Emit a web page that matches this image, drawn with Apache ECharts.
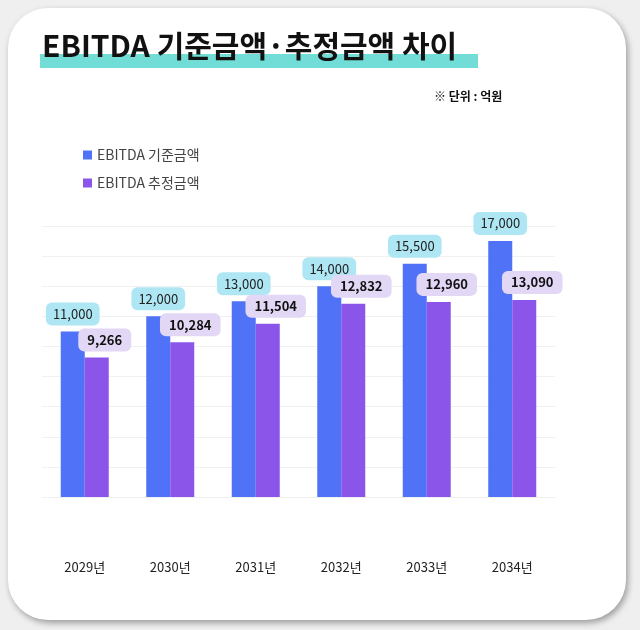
<!DOCTYPE html>
<html><head><meta charset="utf-8">
<script src="https://cdn.jsdelivr.net/npm/echarts@6/dist/echarts.min.js"></script>
<style>
html,body{margin:0;padding:0;background:#efefef;}
#card{position:absolute;left:8px;top:8px;width:618px;height:612px;background:#fff;border-radius:40px;box-shadow:2px 3px 6px rgba(0,0,0,0.35);}
#c{position:absolute;left:0;top:0;width:640px;height:630px;}
</style></head><body>
<div id="card"></div>
<div id="c"></div>
<script>
const categories=['2029년','2030년','2031년','2032년','2033년','2034년'];
const baseValues=[11000,12000,13000,14000,15500,17000];
const estValues=[9266,10284,11504,12832,12960,13090];
const chart=echarts.init(document.getElementById('c'));
const fmt=p=>p.value.toLocaleString('en-US');
chart.setOption({
  graphic:[
    {type:'rect',shape:{x:40,y:54,width:438,height:14},style:{fill:'#72ddd6'}},
    {type:'text',left:42,top:31,style:{text:'EBITDA 기준금액·추정금액 차이',font:'bold 30px "Noto Sans CJK KR"',fill:'#111'}},
    {type:'text',left:434,top:90,style:{text:'※ 단위 : 억원',font:'bold 12px "Noto Sans CJK KR"',fill:'#111'}}
  ],
  legend:{orient:'vertical',left:78,top:143,itemWidth:9,itemHeight:9,itemGap:14,icon:'rect',
    textStyle:{fontFamily:'Noto Sans CJK KR',fontSize:14,color:'#444'}},
  grid:{left:42,right:85,top:226,bottom:133},
  xAxis:{type:'category',data:categories,axisLine:{show:false},axisTick:{show:false},
    axisLabel:{margin:64,fontFamily:'Noto Sans CJK KR',fontSize:13,color:'#222'}},
  yAxis:{type:'value',min:0,max:18000,interval:2000,axisLabel:{show:false},axisLine:{show:false},axisTick:{show:false},
    splitLine:{lineStyle:{color:'#f0f0f0'}}},
  series:[
    {name:'EBITDA 기준금액',type:'bar',data:baseValues,barWidth:24,barGap:'0%',itemStyle:{color:'#4f72f6'},
     label:{show:true,position:'top',distance:6,formatter:fmt,backgroundColor:'#aee6f3',borderRadius:6,padding:[5,7],
       fontFamily:'Noto Sans CJK KR',fontSize:13,color:'#222'}},
    {name:'EBITDA 추정금액',type:'bar',data:estValues,barWidth:24,itemStyle:{color:'#8b55e9'},
     label:{show:true,position:'top',distance:6,offset:[8,0],formatter:fmt,backgroundColor:'#e2d7f5',borderRadius:6,padding:[5,9],
       fontFamily:'Noto Sans CJK KR',fontSize:13,fontWeight:'bold',color:'#111'}}
  ]
});
</script></body></html>
